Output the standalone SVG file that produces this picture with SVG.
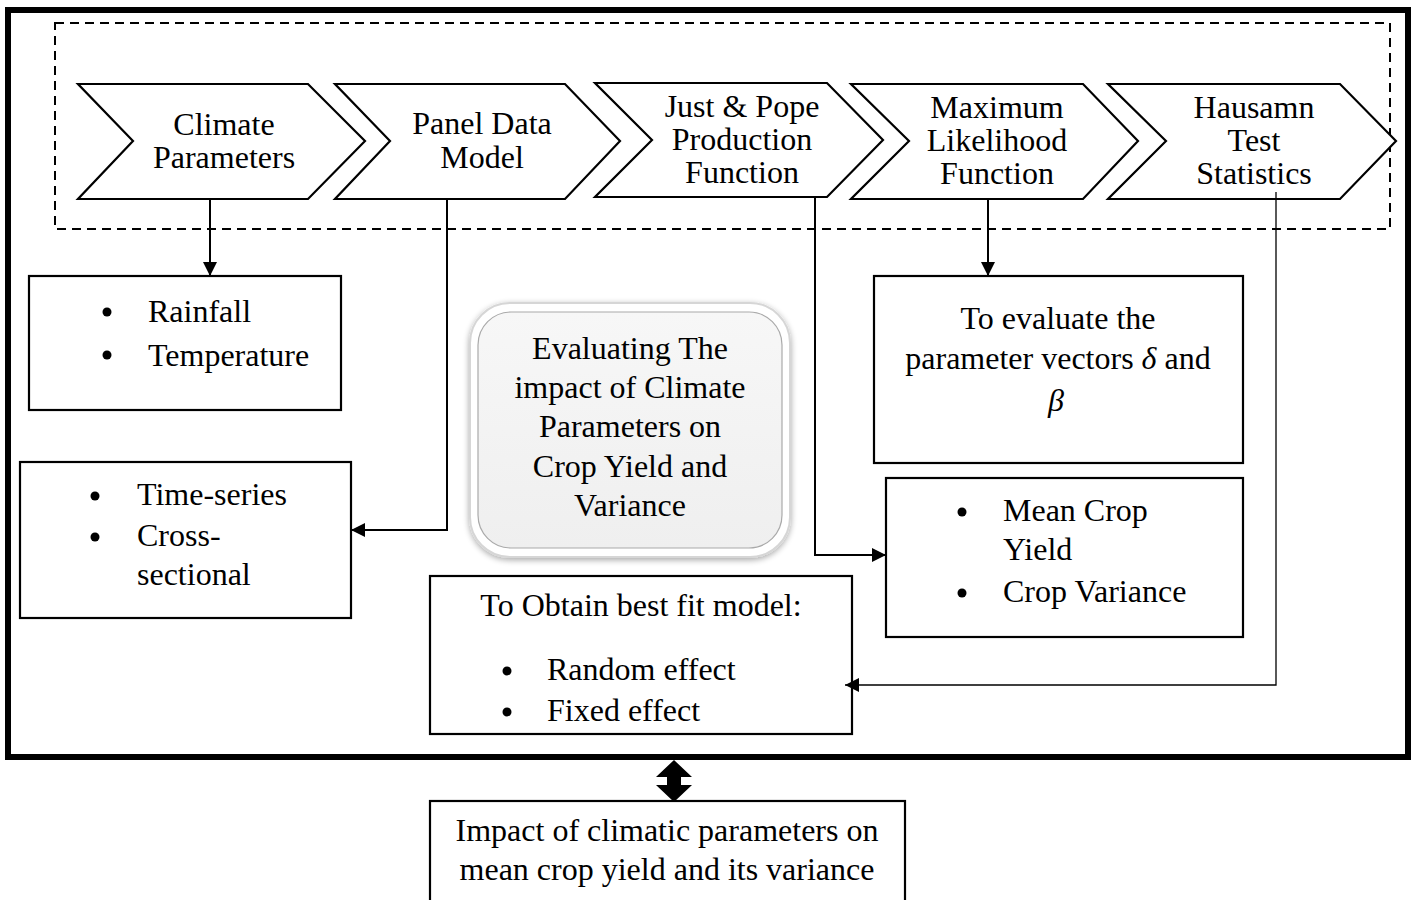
<svg xmlns="http://www.w3.org/2000/svg" width="1415" height="900" viewBox="0 0 1415 900">
<style>
.t{font-family:"Liberation Serif","Times New Roman",serif;font-size:32px;fill:#000}
.m{text-anchor:middle}
.box{fill:#fff;stroke:#000;stroke-width:2.2}
.chev{fill:#fff;stroke:#000;stroke-width:2.2;stroke-linejoin:miter}
.con{fill:none;stroke:#000;stroke-width:2}
.thin{fill:none;stroke:#000;stroke-width:1.3}
.it{font-style:italic}
</style>
<defs>
<marker id="ah" viewBox="0 0 10 10" refX="10" refY="5" markerWidth="14" markerHeight="14" markerUnits="userSpaceOnUse" orient="auto">
<path d="M0,0 L10,5 L0,10 z" fill="#000"/>
</marker>
<linearGradient id="g" x1="0" y1="0" x2="0" y2="1">
<stop offset="0" stop-color="#f7f7f7"/>
<stop offset="1" stop-color="#efefef"/>
</linearGradient>
<filter id="sh" x="-10%" y="-10%" width="120%" height="120%">
<feGaussianBlur in="SourceAlpha" stdDeviation="3"/>
<feOffset dx="0" dy="2" result="b"/>
<feComponentTransfer><feFuncA type="linear" slope="0.35"/></feComponentTransfer>
<feMerge><feMergeNode/><feMergeNode in="SourceGraphic"/></feMerge>
</filter>
</defs>
<rect x="0" y="0" width="1415" height="900" fill="#fff"/>
<g id="frame">
<rect x="8" y="10" width="1400" height="747" fill="none" stroke="#000" stroke-width="6"/>
<rect x="55" y="23" width="1335" height="206" fill="none" stroke="#000" stroke-width="2" stroke-dasharray="9,6"/>
</g>
<g id="n-climate">
<polygon class="chev" points="78,84 308,84 365,141 308,199 78,199 133,141"/>
<text class="t m" x="224" y="135">Climate</text>
<text class="t m" x="224" y="168">Parameters</text>
</g>
<g id="n-panel">
<polygon class="chev" points="335,84 565,84 620,141 565,199 335,199 390,141"/>
<text class="t m" x="482" y="134">Panel Data</text>
<text class="t m" x="482" y="168">Model</text>
</g>
<g id="n-justpope">
<polygon class="chev" points="595,83 827,83 883,140 827,197 595,197 652,140"/>
<text class="t m" x="742" y="117">Just &amp; Pope</text>
<text class="t m" x="742" y="150">Production</text>
<text class="t m" x="742" y="183">Function</text>
</g>
<g id="n-maxlik">
<polygon class="chev" points="851,84 1083,84 1138,141 1083,199 851,199 909,141"/>
<text class="t m" x="997" y="118">Maximum</text>
<text class="t m" x="997" y="151">Likelihood</text>
<text class="t m" x="997" y="184">Function</text>
</g>
<g id="n-hausman">
<polygon class="chev" points="1108,84 1340,84 1396,141 1340,199 1108,199 1166,141"/>
<text class="t m" x="1254" y="118">Hausamn</text>
<text class="t m" x="1254" y="151">Test</text>
<text class="t m" x="1254" y="184">Statistics</text>
</g>
<g id="n-rain">
<rect class="box" x="29" y="276" width="312" height="134"/>
<circle cx="107" cy="312" r="4.5"/>
<circle cx="107" cy="355" r="4.5"/>
<text class="t" x="148" y="322">Rainfall</text>
<text class="t" x="148" y="366">Temperature</text>
</g>
<g id="n-time">
<rect class="box" x="20" y="462" width="331" height="156"/>
<circle cx="95" cy="496" r="4.5"/>
<circle cx="95" cy="537" r="4.5"/>
<text class="t" x="137" y="505">Time-series</text>
<text class="t" x="137" y="546">Cross-</text>
<text class="t" x="137" y="585">sectional</text>
</g>
<g id="n-center">
<rect x="470" y="303" width="320" height="254" rx="40" fill="#fff" stroke="#d6d6d6" stroke-width="2" filter="url(#sh)"/>
<rect x="478" y="312" width="304" height="236" rx="33" fill="url(#g)" stroke="#aaa" stroke-width="1.2"/>
<text class="t m" x="630" y="359">Evaluating The</text>
<text class="t m" x="630" y="398">impact of Climate</text>
<text class="t m" x="630" y="437">Parameters on</text>
<text class="t m" x="630" y="477">Crop Yield and</text>
<text class="t m" x="630" y="516">Variance</text>
</g>
<g id="n-evaluate">
<rect class="box" x="874" y="276" width="369" height="187"/>
<text class="t m" x="1058" y="329">To evaluate the</text>
<text class="t m" x="1058" y="369">parameter vectors <tspan class="it">δ</tspan> and</text>
<text class="t m it" x="1056" y="411">β</text>
</g>
<g id="n-mean">
<rect class="box" x="886" y="478" width="357" height="159"/>
<circle cx="962" cy="512" r="4.5"/>
<circle cx="962" cy="593" r="4.5"/>
<text class="t" x="1003" y="521">Mean Crop</text>
<text class="t" x="1003" y="560">Yield</text>
<text class="t" x="1003" y="602">Crop Variance</text>
</g>
<g id="n-obtain">
<rect class="box" x="430" y="576" width="422" height="158"/>
<text class="t m" x="641" y="616">To Obtain best fit model:</text>
<circle cx="507" cy="671" r="4.5"/>
<circle cx="507" cy="712" r="4.5"/>
<text class="t" x="547" y="680">Random effect</text>
<text class="t" x="547" y="721">Fixed effect</text>
</g>
<g id="n-impact">
<rect class="box" x="430" y="801" width="475" height="110"/>
<text class="t m" x="667" y="841">Impact of climatic parameters on</text>
<text class="t m" x="667" y="880">mean crop yield and its variance</text>
</g>
<g id="connectors">
<path class="con" d="M210,199 V276" marker-end="url(#ah)"/>
<path class="con" d="M543,199 H447 V530 H351" marker-end="url(#ah)"/>
<path class="con" d="M745,197 H815 V555 H886" marker-end="url(#ah)"/>
<path class="con" d="M988,199 V276" marker-end="url(#ah)"/>
<path class="thin" d="M1276,192 V685 H845" marker-end="url(#ah)"/>
<polygon points="674,760 692,777 681,777 681,785 692,785 674,802 656,785 667,785 667,777 656,777" fill="#000"/>
</g>
</svg>
